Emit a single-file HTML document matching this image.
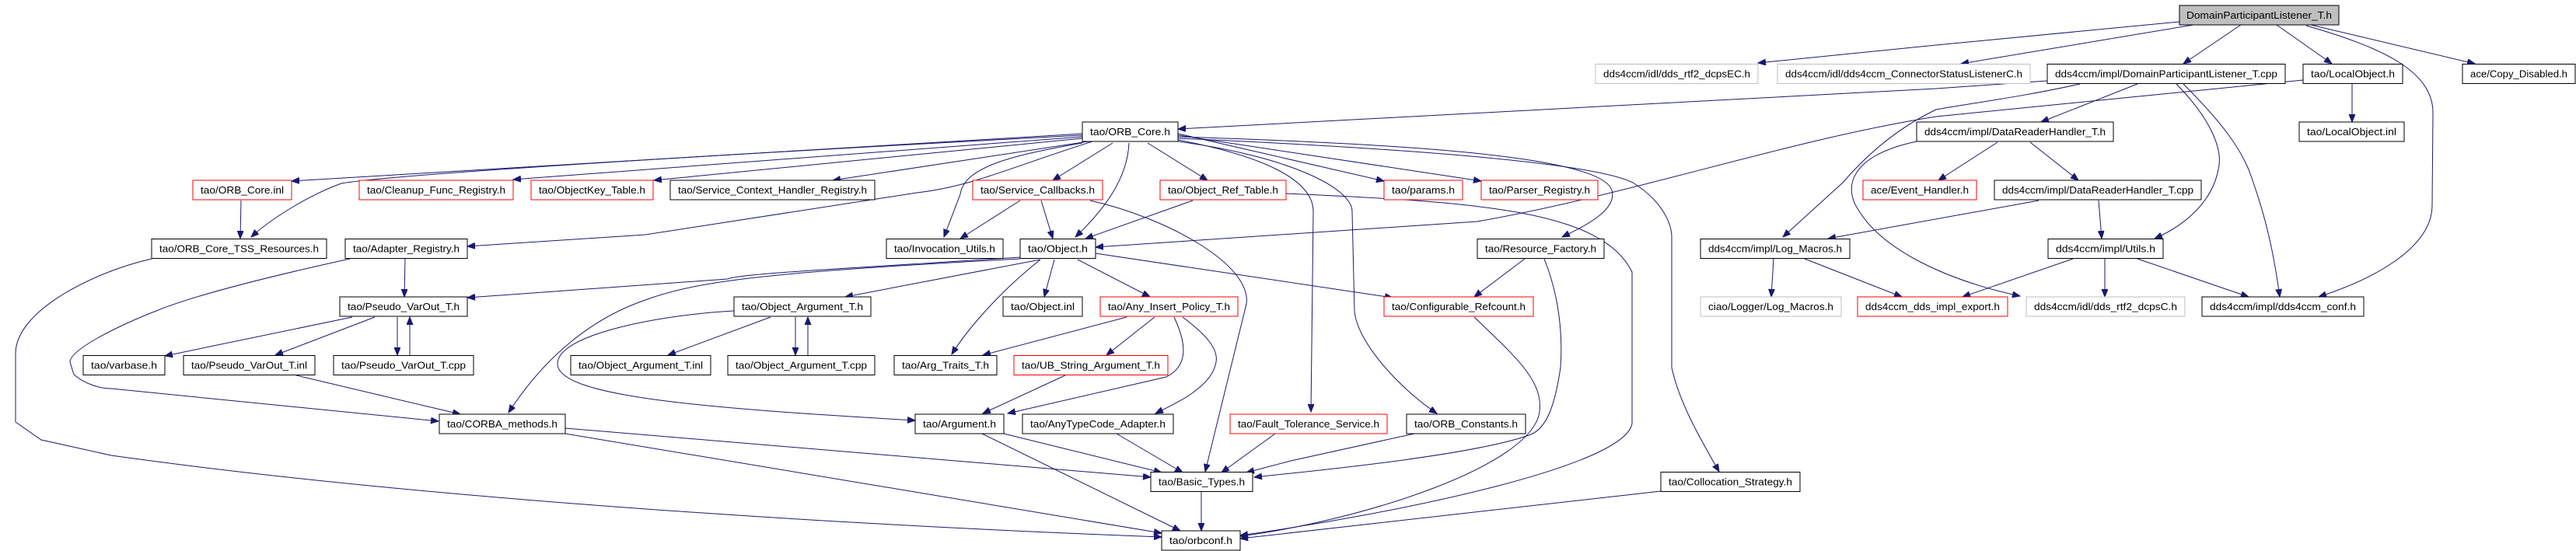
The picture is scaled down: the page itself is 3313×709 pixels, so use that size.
<!DOCTYPE html>
<html><head><meta charset="utf-8"><style>
html,body{margin:0;padding:0;background:#fff;}
svg{display:block;}
text{font-family:"Liberation Sans",sans-serif;font-size:13px;text-anchor:middle;fill:#000;}
.e{fill:none;stroke:#191970;stroke-width:1;marker-end:url(#ah);}
.n{fill:#fff;stroke:#000;stroke-width:1;}
.r{fill:#fff;stroke:#ff0000;stroke-width:1;}
.g{fill:#fff;stroke:#bfbfbf;stroke-width:1;}
</style></head><body>
<svg width="3313" height="709" viewBox="0 0 3313 709" xmlns="http://www.w3.org/2000/svg">
<defs><marker id="ah" markerUnits="userSpaceOnUse" markerWidth="11" markerHeight="9" refX="10" refY="4" orient="auto"><path d="M0,0 L10,4 L0,8 z" fill="#191970" stroke="#191970"/></marker></defs>
<g>
<path class="e" d="M2803,28 L2490,58 L2261,81"/>
<path class="e" d="M2821,32 L2522,82"/>
<path class="e" d="M2882,32 L2808,82"/>
<path class="e" d="M2928,32 L2999,82"/>
<path class="e" d="M2972,32 L3183,82"/>
<path class="e" d="M2966,33 C3060,60 3129,90 3129,145 L3128,264 C3128,320 3050,360 2982,382"/>
<path class="e" d="M2633,104 L2490,114 L1515,166"/>
<path class="e" d="M2749,108 L2625,157"/>
<path class="e" d="M2799,108 C2840,150 2860,190 2853,218 C2845,260 2810,290 2771,307"/>
<path class="e" d="M2808,108 C2860,160 2880,190 2892,218 C2915,280 2925,330 2932,382"/>
<path class="e" d="M2675,108 C2600,125 2520,135 2490,141 C2440,165 2400,200 2370,235 L2293,305"/>
<path class="e" d="M2569,183 L2493,232"/>
<path class="e" d="M2611,183 L2673,232"/>
<path class="e" d="M2465,182 C2380,200 2370,240 2390,270 C2420,320 2500,360 2598,381"/>
<path class="e" d="M2622,258 L2351,307"/>
<path class="e" d="M2699,258 L2703,307"/>
<path class="e" d="M2666,333 L2524,382"/>
<path class="e" d="M2707,333 L2707,382"/>
<path class="e" d="M2749,333 L2892,382"/>
<path class="e" d="M3025,108 L3025,157"/>
<path class="e" d="M2962,103 L2490,150 C2300,180 2100,250 1900,285 L1409,318"/>
<path class="e" d="M2281,333 L2278,382"/>
<path class="e" d="M2321,333 L2446,382"/>
<path class="e" d="M1392,172 L375,233"/>
<path class="e" d="M1392,174 C900,200 500,225 439,236 C400,250 350,280 323,305"/>
<path class="e" d="M1392,176 L660,231"/>
<path class="e" d="M1392,178 L841,232"/>
<path class="e" d="M1400,182 L1071,232"/>
<path class="e" d="M1405,182 C1300,215 1250,240 1179,248 L830,302 L601,317"/>
<path class="e" d="M1392,184 C1300,200 1240,215 1235,250 L1214,305"/>
<path class="e" d="M1431,184 L1354,232"/>
<path class="e" d="M1452,184 C1450,230 1420,270 1383,305"/>
<path class="e" d="M1476,184 L1553,232"/>
<path class="e" d="M1515,172 L1780,233"/>
<path class="e" d="M1515,174 L1905,233"/>
<path class="e" d="M1515,176 C1800,185 2060,200 2073,245 C2080,270 2040,290 2009,305"/>
<path class="e" d="M1515,178 C1900,195 2060,215 2100,235 C2140,260 2150,290 2150,305 L2150,473 C2160,520 2190,570 2211,607"/>
<path class="e" d="M1515,180 C1620,200 1690,230 1689,273 L1686,530"/>
<path class="e" d="M1515,182 C1650,200 1740,240 1739,273 L1742,400 C1745,440 1800,500 1848,532"/>
<path class="e" d="M1312,258 L1235,307"/>
<path class="e" d="M1339,258 L1354,307"/>
<path class="e" d="M1402,258 C1500,280 1610,340 1603,391 L1550,607"/>
<path class="e" d="M1534,258 L1396,307"/>
<path class="e" d="M1654,249 C1900,260 2060,270 2099,350 L2099,545 C2090,600 1800,660 1595,689"/>
<path class="e" d="M1312,331 C1100,345 950,352 936,359 L601,383"/>
<path class="e" d="M1312,333 C1000,350 900,360 830,386 C760,410 700,460 654,531"/>
<path class="e" d="M944,400 C850,405 717,430 717,468 C717,510 900,525 1177,541"/>
<path class="e" d="M1338,334 L1087,382"/>
<path class="e" d="M1356,334 L1343,382"/>
<path class="e" d="M1386,334 L1479,382"/>
<path class="e" d="M1338,334 C1280,380 1240,430 1224,456"/>
<path class="e" d="M1409,326 L1791,383"/>
<path class="e" d="M991,408 L859,457"/>
<path class="e" d="M1023,408 L1023,457"/>
<path class="e" d="M1039,457 L1039,408"/>
<path class="e" d="M1449,408 L1264,457"/>
<path class="e" d="M1485,408 L1423,457"/>
<path class="e" d="M1510,408 C1525,440 1530,470 1500,485 L1296,532"/>
<path class="e" d="M1521,408 C1550,430 1570,450 1563,470 C1555,500 1510,520 1486,532"/>
<path class="e" d="M1370,483 L1264,532"/>
<path class="e" d="M1291,558 L1494,608"/>
<path class="e" d="M1263,558 L1518,683"/>
<path class="e" d="M1436,558 L1521,608"/>
<path class="e" d="M1640,558 L1571,608"/>
<path class="e" d="M1819,558 L1660,593 L1603,608"/>
<path class="e" d="M1986,333 C2005,380 2010,430 2007,473 C2000,520 1990,550 1969,559 C1900,585 1700,605 1613,614"/>
<path class="e" d="M1961,333 L1896,382"/>
<path class="e" d="M1896,408 C1950,460 1985,490 1980,530 C1970,600 1750,670 1595,690"/>
<path class="e" d="M2136,632 L1595,693"/>
<path class="e" d="M1545,633 L1545,683"/>
<path class="e" d="M727,551 L1480,614"/>
<path class="e" d="M727,558 L1494,686"/>
<path class="e" d="M195,333 C120,350 20,400 20,455 L20,543 L53,566 L143,586 C600,650 1200,680 1494,691"/>
<path class="e" d="M450,333 C350,355 250,380 201,400 C150,420 90,450 90,466 L95,482 C110,495 130,500 143,500 L564,542"/>
<path class="e" d="M521,333 L520,382"/>
<path class="e" d="M453,408 L212,458"/>
<path class="e" d="M482,408 L354,457"/>
<path class="e" d="M511,408 L511,457"/>
<path class="e" d="M527,457 L527,408"/>
<path class="e" d="M381,483 L592,533"/>
<path class="e" d="M310,258 L309,307"/>
</g>
<g>
<rect x="2803" y="7" width="205" height="25" fill="#bfbfbf" stroke="#000"/><text x="2905.5" y="24" textLength="187" lengthAdjust="spacingAndGlyphs">DomainParticipantListener_T.h</text>

<rect class="g" x="2052" y="82.5" width="209" height="25"/><text x="2156.5" y="99.5" textLength="189" lengthAdjust="spacingAndGlyphs">dds4ccm/idl/dds_rtf2_dcpsEC.h</text>
<rect class="g" x="2286" y="82.5" width="325" height="25"/><text x="2448.5" y="99.5" textLength="305" lengthAdjust="spacingAndGlyphs">dds4ccm/idl/dds4ccm_ConnectorStatusListenerC.h</text>
<rect class="n" x="2633" y="82.5" width="306" height="25"/><text x="2786" y="99.5" textLength="286" lengthAdjust="spacingAndGlyphs">dds4ccm/impl/DomainParticipantListener_T.cpp</text>
<rect class="n" x="2962" y="82.5" width="128" height="25"/><text x="3026" y="99.5" textLength="108" lengthAdjust="spacingAndGlyphs">tao/LocalObject.h</text>
<rect class="n" x="3167" y="82.5" width="145" height="25"/><text x="3239.5" y="99.5" textLength="125" lengthAdjust="spacingAndGlyphs">ace/Copy_Disabled.h</text>

<rect class="n" x="1392" y="157" width="123" height="25"/><text x="1453.5" y="174" textLength="103" lengthAdjust="spacingAndGlyphs">tao/ORB_Core.h</text>
<rect class="n" x="2465" y="157" width="253" height="25"/><text x="2591.5" y="174" textLength="233" lengthAdjust="spacingAndGlyphs">dds4ccm/impl/DataReaderHandler_T.h</text>
<rect class="n" x="2957" y="157" width="135" height="25"/><text x="3024.5" y="174" textLength="115" lengthAdjust="spacingAndGlyphs">tao/LocalObject.inl</text>

<rect class="r" x="248" y="232" width="127" height="25"/><text x="311.5" y="249" textLength="107" lengthAdjust="spacingAndGlyphs">tao/ORB_Core.inl</text>
<rect class="r" x="462" y="232" width="198" height="25"/><text x="561" y="249" textLength="178" lengthAdjust="spacingAndGlyphs">tao/Cleanup_Func_Registry.h</text>
<rect class="r" x="683" y="232" width="157" height="25"/><text x="761.5" y="249" textLength="137" lengthAdjust="spacingAndGlyphs">tao/ObjectKey_Table.h</text>
<rect class="n" x="862" y="232" width="263" height="25"/><text x="993.5" y="249" textLength="243" lengthAdjust="spacingAndGlyphs">tao/Service_Context_Handler_Registry.h</text>
<rect class="r" x="1251" y="232" width="167" height="25"/><text x="1334.5" y="249" textLength="147" lengthAdjust="spacingAndGlyphs">tao/Service_Callbacks.h</text>
<rect class="r" x="1492" y="232" width="162" height="25"/><text x="1573" y="249" textLength="142" lengthAdjust="spacingAndGlyphs">tao/Object_Ref_Table.h</text>
<rect class="r" x="1780" y="232" width="101" height="25"/><text x="1830.5" y="249" textLength="81" lengthAdjust="spacingAndGlyphs">tao/params.h</text>
<rect class="r" x="1905" y="232" width="150" height="25"/><text x="1980" y="249" textLength="130" lengthAdjust="spacingAndGlyphs">tao/Parser_Registry.h</text>
<rect class="r" x="2396" y="232" width="146" height="25"/><text x="2469" y="249" textLength="126" lengthAdjust="spacingAndGlyphs">ace/Event_Handler.h</text>
<rect class="n" x="2565" y="232" width="266" height="25"/><text x="2698" y="249" textLength="246" lengthAdjust="spacingAndGlyphs">dds4ccm/impl/DataReaderHandler_T.cpp</text>

<rect class="n" x="195" y="307.5" width="225" height="25"/><text x="307.5" y="324.5" textLength="205" lengthAdjust="spacingAndGlyphs">tao/ORB_Core_TSS_Resources.h</text>
<rect class="n" x="444" y="307.5" width="157" height="25"/><text x="522.5" y="324.5" textLength="137" lengthAdjust="spacingAndGlyphs">tao/Adapter_Registry.h</text>
<rect class="n" x="1140" y="307.5" width="150" height="25"/><text x="1215" y="324.5" textLength="130" lengthAdjust="spacingAndGlyphs">tao/Invocation_Utils.h</text>
<rect class="n" x="1312" y="307.5" width="97" height="25"/><text x="1360.5" y="324.5" textLength="77" lengthAdjust="spacingAndGlyphs">tao/Object.h</text>
<rect class="n" x="1900" y="307.5" width="163" height="25"/><text x="1981.5" y="324.5" textLength="143" lengthAdjust="spacingAndGlyphs">tao/Resource_Factory.h</text>
<rect class="n" x="2187" y="307.5" width="192" height="25"/><text x="2283" y="324.5" textLength="172" lengthAdjust="spacingAndGlyphs">dds4ccm/impl/Log_Macros.h</text>
<rect class="n" x="2634" y="307.5" width="148" height="25"/><text x="2708" y="324.5" textLength="128" lengthAdjust="spacingAndGlyphs">dds4ccm/impl/Utils.h</text>

<rect class="n" x="437" y="382" width="164" height="25"/><text x="519" y="399" textLength="144" lengthAdjust="spacingAndGlyphs">tao/Pseudo_VarOut_T.h</text>
<rect class="n" x="944" y="382" width="176" height="25"/><text x="1032" y="399" textLength="156" lengthAdjust="spacingAndGlyphs">tao/Object_Argument_T.h</text>
<rect class="n" x="1290" y="382" width="102" height="25"/><text x="1341" y="399" textLength="82" lengthAdjust="spacingAndGlyphs">tao/Object.inl</text>
<rect class="r" x="1415" y="382" width="177" height="25"/><text x="1503.5" y="399" textLength="157" lengthAdjust="spacingAndGlyphs">tao/Any_Insert_Policy_T.h</text>
<rect class="r" x="1780" y="382" width="192" height="25"/><text x="1876" y="399" textLength="172" lengthAdjust="spacingAndGlyphs">tao/Configurable_Refcount.h</text>
<rect class="g" x="2187" y="382" width="181" height="25"/><text x="2277.5" y="399" textLength="161" lengthAdjust="spacingAndGlyphs">ciao/Logger/Log_Macros.h</text>
<rect class="r" x="2389" y="382" width="193" height="25"/><text x="2485.5" y="399" textLength="173" lengthAdjust="spacingAndGlyphs">dds4ccm_dds_impl_export.h</text>
<rect class="g" x="2606" y="382" width="204" height="25"/><text x="2708" y="399" textLength="184" lengthAdjust="spacingAndGlyphs">dds4ccm/idl/dds_rtf2_dcpsC.h</text>
<rect class="n" x="2832" y="382" width="208" height="25"/><text x="2936" y="399" textLength="188" lengthAdjust="spacingAndGlyphs">dds4ccm/impl/dds4ccm_conf.h</text>

<rect class="n" x="107" y="457.5" width="105" height="25"/><text x="159.5" y="474.5" textLength="85" lengthAdjust="spacingAndGlyphs">tao/varbase.h</text>
<rect class="n" x="236" y="457.5" width="169" height="25"/><text x="320.5" y="474.5" textLength="149" lengthAdjust="spacingAndGlyphs">tao/Pseudo_VarOut_T.inl</text>
<rect class="n" x="429" y="457.5" width="180" height="25"/><text x="519" y="474.5" textLength="160" lengthAdjust="spacingAndGlyphs">tao/Pseudo_VarOut_T.cpp</text>
<rect class="n" x="734" y="457.5" width="180" height="25"/><text x="824" y="474.5" textLength="160" lengthAdjust="spacingAndGlyphs">tao/Object_Argument_T.inl</text>
<rect class="n" x="936" y="457.5" width="189" height="25"/><text x="1030.5" y="474.5" textLength="169" lengthAdjust="spacingAndGlyphs">tao/Object_Argument_T.cpp</text>
<rect class="n" x="1150" y="457.5" width="132" height="25"/><text x="1216" y="474.5" textLength="112" lengthAdjust="spacingAndGlyphs">tao/Arg_Traits_T.h</text>
<rect class="r" x="1304" y="457.5" width="198" height="25"/><text x="1403" y="474.5" textLength="178" lengthAdjust="spacingAndGlyphs">tao/UB_String_Argument_T.h</text>

<rect class="n" x="565" y="533" width="162" height="25"/><text x="646" y="550" textLength="142" lengthAdjust="spacingAndGlyphs">tao/CORBA_methods.h</text>
<rect class="n" x="1177" y="533" width="114" height="25"/><text x="1234" y="550" textLength="94" lengthAdjust="spacingAndGlyphs">tao/Argument.h</text>
<rect class="n" x="1315" y="533" width="194" height="25"/><text x="1412" y="550" textLength="174" lengthAdjust="spacingAndGlyphs">tao/AnyTypeCode_Adapter.h</text>
<rect class="r" x="1582" y="533" width="202" height="25"/><text x="1683" y="550" textLength="182" lengthAdjust="spacingAndGlyphs">tao/Fault_Tolerance_Service.h</text>
<rect class="n" x="1809" y="533" width="153" height="25"/><text x="1885.5" y="550" textLength="133" lengthAdjust="spacingAndGlyphs">tao/ORB_Constants.h</text>

<rect class="n" x="1480" y="607.5" width="131" height="25"/><text x="1545.5" y="624.5" textLength="111" lengthAdjust="spacingAndGlyphs">tao/Basic_Types.h</text>
<rect class="n" x="2136" y="607.5" width="179" height="25"/><text x="2225.5" y="624.5" textLength="159" lengthAdjust="spacingAndGlyphs">tao/Collocation_Strategy.h</text>

<rect class="n" x="1494" y="683" width="101" height="25"/><text x="1544.5" y="700" textLength="81" lengthAdjust="spacingAndGlyphs">tao/orbconf.h</text>
</g>
</svg>
</body></html>
